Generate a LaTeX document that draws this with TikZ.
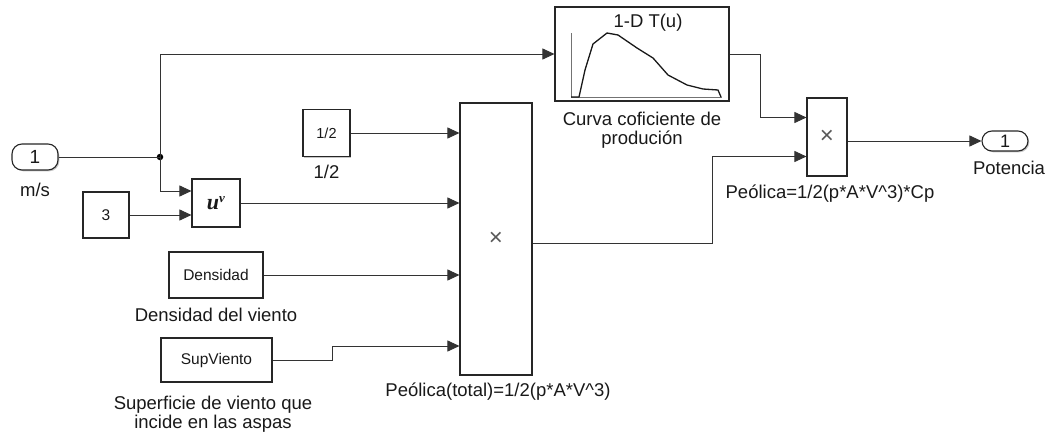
\documentclass[tikz,border=0pt]{standalone}
\usepackage{fontspec}
\setmainfont{Liberation Sans}
\newfontfamily\serifb{Liberation Serif}
\usetikzlibrary{arrows.meta,shadows,calc}
\begin{document}
\begin{tikzpicture}[x=1pt,y=-1pt,
 blk/.style={draw=black!85, line width=1.1pt, fill=white,
   drop shadow={shadow xshift=1.3pt,shadow yshift=-1.3pt,fill=black!50,opacity=0.45},
   inner sep=0pt, text=black!90, font=\fontsize{15.5}{18}\selectfont},
 pill/.style={blk, rounded corners=10pt, font=\fontsize{19}{19}\selectfont},
 wire/.style={draw=black!80, line width=0.9pt},
 arr/.style={wire, -{Triangle[length=12pt,width=11pt]}},
 lbl/.style={font=\fontsize{18.5}{19}\selectfont, text=black!90, inner sep=0pt, anchor=base},
 mult/.style={font=\fontsize{24}{24}\selectfont, text=black!65},
]
\useasboundingbox (0,0) rectangle (1045,434);

% blocks
\node[pill, minimum width=46pt, minimum height=26pt] (inp) at (35,157) {1};
\node[lbl] (msl) at (35,196) {m/s};
\node[circle, fill=black, inner sep=0pt, minimum size=6.5pt] (j) at (160,157) {};

\node[blk, minimum width=46pt, minimum height=46pt] (three) at (106,215) {3};
\node[blk, minimum width=48pt, minimum height=48pt] (pow) at (216,203)
  {\serifb\bfseries\itshape\fontsize{22}{22}\selectfont u\raisebox{7pt}{\fontsize{13}{13}\selectfont v}};

\node[blk, minimum width=47pt, minimum height=47pt, font=\fontsize{14.5}{16}\selectfont] (half) at (326.5,133) {1/2};
\node[lbl] (halfl) at (326.5,178) {1/2};

\node[blk, minimum width=94pt, minimum height=46pt] (dens) at (216,275) {Densidad};
\node[lbl] (densl) at (216,321) {Densidad del viento};

\node[blk, minimum width=111pt, minimum height=44pt] (sup) at (216.5,360) {SupViento};
\node[lbl] (supl1) at (213,409) {Superficie de viento que};
\node[lbl] (supl2) at (213,428) {incide en las aspas};

\node[blk, minimum width=72pt, minimum height=272pt, mult] (prod) at (496,239) {×};
\node[lbl] (prodl) at (498,396) {Peólica(total)=1/2(p*A*V\^{}3)};

\node[blk, minimum width=174pt, minimum height=94pt] (curve) at (642,54) {};
\node[lbl] (curvet) at (648,27) {1-D T(u)};
\node[lbl] (curvel1) at (642,125) {Curva coficiente de};
\node[lbl] (curvel2) at (642,144) {produción};
\draw[black!55, line width=0.8pt] (571,33) -- (571,97) -- (722,97);
\draw[black!90, line width=1.3pt, line join=round]
  (571,97) -- (579,97) -- (585,70) -- (593,44) -- (607,33) -- (618,35) -- (637,48)
  -- (653,58) -- (668,75) -- (687,85) -- (703,89) -- (718,90) -- (721,97);

\node[blk, minimum width=40pt, minimum height=78pt, mult] (sprod) at (827,137) {×};
\node[lbl] (sprodl) at (830,198) {Peólica=1/2(p*A*V\^{}3)*Cp};

\node[pill, minimum width=46pt, minimum height=20pt, font=\fontsize{18}{18}\selectfont] (outp) at (1005,141) {1};
\node[lbl] (potl) at (1009,174) {Potencia};

% port coordinates
\coordinate (powin1) at ($(pow.west)+(0,-12)$);
\coordinate (powin2) at ($(pow.west)+(0,12)$);
\coordinate (pin4) at ($(prod.west)+(0,107)$);
\coordinate (pout) at ($(prod.east)+(0,4)$);
\coordinate (sin1) at ($(sprod.west)+(0,-19.5)$);
\coordinate (sin2) at ($(sprod.west)+(0,19.5)$);

% wires
\draw[wire] (inp.east) -- (j.center);
\draw[arr] (j.center) |- (curve.west);
\draw[arr] (j.center) |- (powin1);
\draw[arr] (three.east) -- (powin2);
\draw[arr] (pow.east) -- (pow.east -| prod.west);
\draw[arr] (half.east) -- (half.east -| prod.west);
\draw[arr] (dens.east) -- (dens.east -| prod.west);
\draw[arr] (sup.east) -- ++(60,0) |- (pin4);
\draw[arr] (pout) -- (712,243) |- (sin2);
\draw[arr] (curve.east) -- ++(31,0) |- (sin1);
\draw[arr] (sprod.east |- outp.west) -- (outp.west);
\end{tikzpicture}
\end{document}
